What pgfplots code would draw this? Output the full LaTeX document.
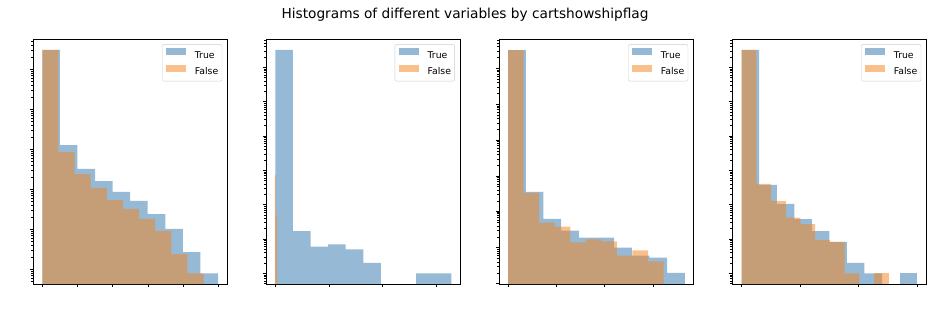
\documentclass[border=0pt]{standalone}
\usepackage{pgfplots}
\pgfplotsset{compat=1.18}
\usepackage{fontspec}
\setmainfont{DejaVu Sans}
\definecolor{c0}{RGB}{45,115,172}
\definecolor{c1}{RGB}{245,130,24}
\pgfplotsset{
  myhistax/.style={
    scale only axis, width=194.3pt, height=244.7pt, anchor=south west,
    tick align=outside, tick pos=left,
    xticklabels={}, yticklabels={},
    major tick length=3.2pt, minor tick length=1.83pt,
    axis line style={line width=0.73pt, black},
    tick style={black, line width=0.73pt},
    minor tick style={black, line width=0.55pt},
    legend cell align=left,
    legend image code/.code={\path[##1, draw=none, sharp corners] (0pt,0.4pt) rectangle (20pt,7.3pt);},
    legend style={at={(0.972,0.98)}, anchor=north east, draw=black!20,
      rounded corners=2pt, fill=white, font=\fontsize{9.3}{11}\selectfont,
      inner xsep=3.7pt, inner ysep=4pt, row sep=4.5pt, column sep=9pt,
      nodes={inner sep=0pt, text height=7.5pt, text depth=2.2pt}},
  },
  tbar/.style={ybar interval, fill=c0, fill opacity=0.5, draw=none, forget plot},
  fbar/.style={ybar interval, fill=c1, fill opacity=0.5, draw=none, forget plot},
}
\begin{document}
\begin{tikzpicture}
\path[use as bounding box] (0,0) rectangle (933pt,322pt);
\node[anchor=base, font=\fontsize{13.7}{16}\selectfont] at (465pt,303.7pt) {Histograms of different variables by cartshowshipflag};

% Panel 1
\begin{axis}[myhistax, ymode=log, log origin y=infty, ytickten={-1,0,1,2,3,4,5,6,7}, at={(33.3pt,38pt)}, xmin=-0.255, xmax=5.252, ymin=0.429, ymax=562341, xtick={0,1,2,3,4,5}]
\addplot[tbar] coordinates {(0,303800) (0.498,1280) (0.996,322) (1.494,161) (1.992,86) (2.490,51) (2.988,24) (3.486,10.2) (3.984,2.7) (4.482,0.79) (4.980,0.79)};
\addplot[fbar] coordinates {(0,303800) (0.457,856) (0.914,241) (1.371,108) (1.828,54) (2.285,32.2) (2.742,18.1) (3.199,9.1) (3.656,2.4) (4.113,0.79) (4.570,0.79)};
\addlegendimage{fill=c0, fill opacity=0.5}\addlegendentry{True}
\addlegendimage{fill=c1, fill opacity=0.5}\addlegendentry{False}
\end{axis}

% Panel 2
\begin{axis}[myhistax, ymode=log, log origin y=infty, ytickten={-1,0,1,2,3,4,5,6,7}, at={(266pt,38pt)}, xmin=-0.174, xmax=3.452, ymin=0.488, ymax=6.6e6, xtick={0,1,2,3}]
\addplot[tbar] coordinates {(0,3.24e6) (0.3284,17) (0.6568,6) (0.9852,7) (1.3136,5) (1.642,2) (1.9704,2)};
\addplot[tbar] coordinates {(2.6272,1) (2.9556,1) (3.284,1)};
\addplot[fbar] coordinates {(-0.01,740) (0.008,50) (0.032,50)};
\addlegendimage{fill=c0, fill opacity=0.5}\addlegendentry{True}
\addlegendimage{fill=c1, fill opacity=0.5}\addlegendentry{False}
\end{axis}

% Panel 3
\begin{axis}[myhistax, ymode=log, log origin y=infty, ytickten={-1,0,1,2,3,4,5,6,7}, at={(499.3pt,38pt)}, xmin=-0.183, xmax=3.843, ymin=0.977, ymax=6.4e6, xtick={0,1,2,3}]
\addplot[tbar] coordinates {(0,3.22e6) (0.366,359) (0.732,64) (1.098,30) (1.464,19) (1.830,19) (2.196,10) (2.562,6) (2.928,5.3) (3.294,2) (3.66,2)};
\addplot[fbar] coordinates {(0,3.22e6) (0.322,339) (0.644,50) (0.966,39) (1.288,14) (1.610,17) (1.932,15) (2.254,6) (2.576,8.4) (2.898,4.2) (3.22,4.2)};
\addlegendimage{fill=c0, fill opacity=0.5}\addlegendentry{True}
\addlegendimage{fill=c1, fill opacity=0.5}\addlegendentry{False}
\end{axis}

% Panel 4
\begin{axis}[myhistax, ymode=log, log origin y=infty, ytickten={-1,0,1,2,3,4,5,6,7}, at={(732.3pt,38pt)}, xmin=-0.16, xmax=3.162, ymin=0.488, ymax=6.6e6, xtick={0,1,2,3}]
\addplot[tbar] coordinates {(0,3.24e6) (0.3,375) (0.6,105) (0.9,38) (1.2,17) (1.5,8.2) (1.8,2) (2.1,1) (2.4,1)};
\addplot[tbar] coordinates {(2.7,1) (3.0,1)};
\addplot[fbar] coordinates {(0,3.24e6) (0.2513,401) (0.5026,128) (0.7539,42) (1.0052,27) (1.2565,9.4) (1.5078,8.2) (1.7591,1) (2.0104,1)};
\addplot[fbar] coordinates {(2.2617,1) (2.513,1)};
\addlegendimage{fill=c0, fill opacity=0.5}\addlegendentry{True}
\addlegendimage{fill=c1, fill opacity=0.5}\addlegendentry{False}
\end{axis}
\end{tikzpicture}
\end{document}
